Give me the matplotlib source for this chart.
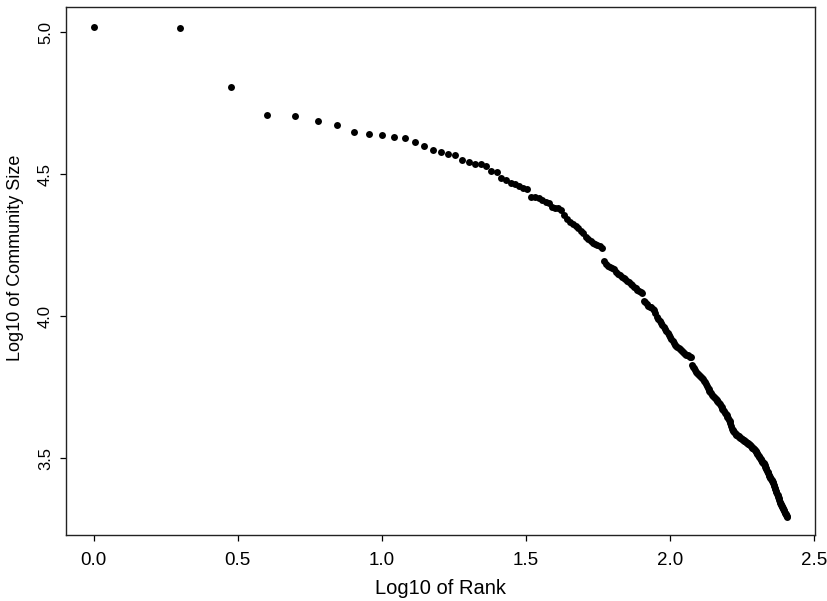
import numpy as np
import matplotlib
matplotlib.use("Agg")
import matplotlib.pyplot as plt

plt.rcParams['font.family'] = ['Liberation Sans', 'DejaVu Sans']

# Community sizes (log10) ordered by rank 1..255
log_size = [
    5.020, 5.016, 4.808, 4.709, 4.704, 4.688, 4.673, 4.650, 4.642, 4.637,
    4.632, 4.628, 4.612, 4.599, 4.587, 4.577, 4.573, 4.569, 4.549, 4.543,
    4.536, 4.535, 4.530, 4.512, 4.508, 4.486, 4.479, 4.470, 4.465, 4.459,
    4.452, 4.448, 4.421, 4.420, 4.415, 4.409, 4.404, 4.398, 4.386, 4.382,
    4.380, 4.374, 4.357, 4.342, 4.332, 4.325, 4.318, 4.311, 4.302, 4.292,
    4.280, 4.271, 4.265, 4.259, 4.255, 4.250, 4.246, 4.240, 4.196, 4.184,
    4.178, 4.173, 4.170, 4.165, 4.157, 4.150, 4.144, 4.139, 4.134, 4.130,
    4.126, 4.120, 4.115, 4.110, 4.104, 4.099, 4.094, 4.090, 4.087, 4.083,
    4.055, 4.049, 4.043, 4.038, 4.034, 4.031, 4.027, 4.023, 4.010, 3.997,
    3.990, 3.983, 3.976, 3.969, 3.962, 3.955, 3.948, 3.941, 3.934, 3.928,
    3.921, 3.914, 3.907, 3.900, 3.897, 3.893, 3.889, 3.885, 3.881, 3.878,
    3.874, 3.871, 3.868, 3.865, 3.862, 3.860, 3.858, 3.856, 3.829, 3.823,
    3.817, 3.811, 3.805, 3.801, 3.797, 3.793, 3.790, 3.786, 3.782, 3.779,
    3.773, 3.767, 3.760, 3.754, 3.748, 3.743, 3.738, 3.733, 3.729, 3.724,
    3.720, 3.717, 3.713, 3.709, 3.706, 3.702, 3.699, 3.695, 3.690, 3.684,
    3.679, 3.674, 3.670, 3.665, 3.660, 3.656, 3.651, 3.646, 3.641, 3.636,
    3.630, 3.624, 3.613, 3.604, 3.600, 3.597, 3.593, 3.590, 3.587, 3.583,
    3.581, 3.579, 3.577, 3.575, 3.573, 3.571, 3.569, 3.567, 3.565, 3.563,
    3.561, 3.560, 3.558, 3.556, 3.555, 3.553, 3.551, 3.549, 3.548, 3.546,
    3.543, 3.541, 3.538, 3.536, 3.534, 3.532, 3.529, 3.525, 3.521, 3.518,
    3.514, 3.511, 3.507, 3.504, 3.500, 3.497, 3.494, 3.491, 3.488, 3.485,
    3.482, 3.479, 3.476, 3.471, 3.466, 3.461, 3.456, 3.452, 3.447, 3.443,
    3.439, 3.435, 3.431, 3.428, 3.424, 3.420, 3.416, 3.412, 3.407, 3.401,
    3.396, 3.391, 3.386, 3.381, 3.376, 3.371, 3.365, 3.359, 3.353, 3.347,
    3.342, 3.338, 3.335, 3.331, 3.327, 3.324, 3.320, 3.317, 3.313, 3.309,
    3.306, 3.303, 3.300, 3.297, 3.294,
]
ranks = np.arange(1, len(log_size) + 1)
log_rank = np.log10(ranks)

x_ticks = [0.0, 0.5, 1.0, 1.5, 2.0, 2.5]
x_tick_labels = ["0.0", "0.5", "1.0", "1.5", "2.0", "2.5"]
y_ticks = [3.5, 4.0, 4.5, 5.0]
y_tick_labels = ["3.5", "4.0", "4.5", "5.0"]

W, H = 828, 601
fig = plt.figure(figsize=(W / 100, H / 100), dpi=100)
ax_l, ax_r, ax_t, ax_b = 66, 815, 7, 535
ax = fig.add_axes([ax_l / W, 1 - ax_b / H, (ax_r - ax_l) / W, (ax_b - ax_t) / H])

ax.plot(log_rank, log_size, linestyle='none', marker='o', markersize=5.0,
        color='black', markeredgewidth=0)

ax.set_xlim(-0.0963, 2.503)
ax.set_ylim(3.230, 5.089)
ax.set_xticks(x_ticks)
ax.set_xticklabels(x_tick_labels)
ax.set_yticks(y_ticks)
ax.set_yticklabels(y_tick_labels, rotation=90, va='center')

ax.tick_params(direction='out', length=4.3, width=0.9, colors='black')
ax.tick_params(axis='x', labelsize=13.5, pad=8)
ax.tick_params(axis='y', labelsize=12, pad=5)
for s in ax.spines.values():
    s.set_linewidth(1.0)
    s.set_color('#222222')

ax.set_xlabel("Log10 of Rank", fontsize=14.5)
ax.set_ylabel("Log10 of Community Size", fontsize=13)

# place axis titles where the reference has them (pixel positions)
def to_axes(px, py):
    return ((px - ax_l) / (ax_r - ax_l), (ax_b - py) / (ax_b - ax_t))

ax.xaxis.set_label_coords(*to_axes(441, 594))
ax.xaxis.label.set_verticalalignment('baseline')
ax.yaxis.set_label_coords(*to_axes(15.5, 258))
ax.yaxis.label.set_verticalalignment('center')

fig.savefig("out.png", dpi=100)
